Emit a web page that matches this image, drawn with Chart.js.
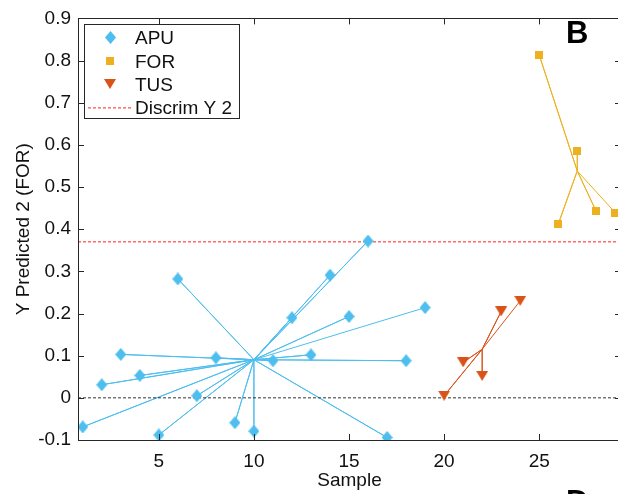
<!DOCTYPE html>
<html>
<head>
<meta charset="utf-8">
<script src="https://cdn.jsdelivr.net/npm/chart.js@4.4.1/dist/chart.umd.min.js"></script>
<style>
html,body{margin:0;padding:0;background:#fff;overflow:hidden;width:618px;height:494px;}
#wrap{position:absolute;left:0;top:0;width:628px;height:494px;}
</style>
</head>
<body>
<div id="wrap"><canvas id="c" width="628" height="494"></canvas></div>
<script>
// ---- data ----
const apuX = [1,2,3,4,5,6,7,8,9,10,11,12,13,14,15,16,17,18,19];
const apuY = [-0.069,0.031,0.103,0.053,-0.088,0.282,0.005,0.095,-0.059,-0.079,0.088,0.190,0.102,0.291,0.193,0.372,-0.094,0.088,0.214];
const forX = [25,26,27,28,29];
const forY = [0.813,0.412,0.585,0.442,0.439];
const tusX = [20,21,22,23,24];
const tusY = [0.005,0.084,0.052,0.205,0.230];
const discrimY = 0.37;
const zeroY = 0;
const seriesNames = ['APU','FOR','TUS','Discrim Y 2'];
const xLimits = [0.75, 29.3];
const yLimits = [-0.1, 0.9];
const xTicks = [5,10,15,20,25];
const xTickLabels = ['5','10','15','20','25'];
const yTicks = [-0.1,0,0.1,0.2,0.3,0.4,0.5,0.6,0.7,0.8,0.9];
const yTickLabels = ['-0.1','0','0.1','0.2','0.3','0.4','0.5','0.6','0.7','0.8','0.9'];
const xTitle = 'Sample';
const yTitle = 'Y Predicted 2 (FOR)';
const panelLabels = ['B','D'];

// ---- styles ----
const C_APU = '#4DBEEE', C_FOR = '#EDB120', C_TUS = '#D95319';
const FONT = "'Liberation Sans', Arial, sans-serif";
const TXT = '#262626';

function mkMarker(w, h, color, shape) {
  const cv = document.createElement('canvas');
  cv.width = w; cv.height = h;
  const g = cv.getContext('2d');
  g.fillStyle = color;
  g.beginPath();
  if (shape === 'diamond') { g.moveTo(w/2,0); g.lineTo(w,h/2); g.lineTo(w/2,h); g.lineTo(0,h/2); }
  else if (shape === 'square') { g.rect(0,0,w,h); }
  else { g.moveTo(0,0); g.lineTo(w,0); g.lineTo(w/2,h); }
  g.closePath(); g.fill();
  return cv;
}
const mkDiamond = mkMarker(11, 13, C_APU, 'diamond');
const mkSquare = mkMarker(8, 8, C_FOR, 'square');
const mkTri = mkMarker(12, 10, C_TUS, 'tri');

function pts(xs, ys) { return xs.map((x, i) => ({x: x, y: ys[i]})); }
function mean(a) { return a.reduce((s, v) => s + v, 0) / a.length; }
function star(xs, ys) {
  const cx = mean(xs), cy = mean(ys);
  const out = [];
  xs.forEach((x, i) => { out.push({x: cx, y: cy}); out.push({x: x, y: ys[i]}); });
  return out;
}

const datasets = [
  {label: seriesNames[0], data: pts(apuX, apuY), pointStyle: mkDiamond, pointRadius: 6, showLine: false, order: 1},
  {label: seriesNames[1], data: pts(forX, forY), pointStyle: mkSquare, pointRadius: 5, showLine: false, order: 1},
  {label: seriesNames[2], data: pts(tusX, tusY), pointStyle: mkTri, pointRadius: 6, showLine: false, order: 1},
  {label: 'APU links', data: star(apuX, apuY), showLine: true, borderColor: C_APU, borderWidth: 1, pointRadius: 0, order: 3},
  {label: 'FOR links', data: star(forX, forY), showLine: true, borderColor: C_FOR, borderWidth: 1, pointRadius: 0, order: 3},
  {label: 'TUS links', data: star(tusX, tusY), showLine: true, borderColor: C_TUS, borderWidth: 1, pointRadius: 0, order: 3},
  {label: seriesNames[3], data: [{x: xLimits[0], y: discrimY}, {x: xLimits[1], y: discrimY}], showLine: true, borderColor: '#FF2020', borderWidth: 1, borderDash: [3,2], pointRadius: 0, order: 2},
  {label: 'Zero', data: [{x: xLimits[0], y: zeroY}, {x: xLimits[1], y: zeroY}], showLine: true, borderColor: '#333333', borderWidth: 1, borderDash: [3,2], pointRadius: 0, order: 2}
];

const framePlugin = {
  id: 'frame',
  afterDatasetsDraw(chart) {
    const ctx = chart.ctx, a = chart.chartArea;
    const xs = chart.scales.x, ys = chart.scales.y;
    ctx.save();
    ctx.strokeStyle = TXT; ctx.lineWidth = 1;
    ctx.beginPath();
    ctx.rect(Math.round(a.left) + 0.5, Math.round(a.top) + 0.5, Math.round(a.right - a.left), Math.round(a.bottom - a.top));
    const L = 6;
    xTicks.forEach(v => {
      const px = Math.round(xs.getPixelForValue(v)) + 0.5;
      ctx.moveTo(px, a.bottom); ctx.lineTo(px, a.bottom - L);
      ctx.moveTo(px, a.top); ctx.lineTo(px, a.top + L);
    });
    yTicks.forEach(v => {
      const py = Math.round(ys.getPixelForValue(v)) + 0.5;
      ctx.moveTo(a.left, py); ctx.lineTo(a.left + L, py);
      ctx.moveTo(a.right, py); ctx.lineTo(a.right - L, py);
    });
    ctx.stroke();
    ctx.restore();
  }
};

const legendPlugin = {
  id: 'boxLegend',
  afterDraw(chart) {
    const ctx = chart.ctx, a = chart.chartArea;
    const bx = a.left + 6, by = a.top + 6, bw = 155, bh = 94;
    ctx.save();
    ctx.fillStyle = '#fff';
    ctx.fillRect(bx, by, bw, bh);
    ctx.strokeStyle = TXT; ctx.lineWidth = 1;
    ctx.strokeRect(Math.round(bx) + 0.5, Math.round(by) + 0.5, bw, bh);
    const rows = [13, 37, 60, 83];
    const mk = [mkDiamond, mkSquare, mkTri];
    const mx = bx + 26;
    mk.forEach((m, i) => ctx.drawImage(m, Math.round(mx - m.width / 2), Math.round(by + rows[i] - m.height / 2)));
    ctx.strokeStyle = '#FF2020'; ctx.setLineDash([3,2]);
    ctx.beginPath(); ctx.moveTo(bx + 4, by + rows[3] + 0.5); ctx.lineTo(bx + 47, by + rows[3] + 0.5); ctx.stroke();
    ctx.setLineDash([]);
    ctx.fillStyle = '#111';
    ctx.font = '19px ' + FONT;
    ctx.textBaseline = 'middle';
    ctx.textAlign = 'left';
    seriesNames.forEach((n, i) => ctx.fillText(n, bx + 51, by + rows[i] + 1));
    // panel labels
    ctx.font = 'bold 31px ' + FONT;
    ctx.fillStyle = '#000';
    ctx.textBaseline = 'alphabetic';
    ctx.fillText(panelLabels[0], 566, 43);
    ctx.fillText(panelLabels[1], 566, 512);
    ctx.restore();
  }
};

new Chart(document.getElementById('c'), {
  type: 'scatter',
  data: {datasets: datasets},
  plugins: [framePlugin, legendPlugin],
  options: {
    responsive: false,
    animation: false,
    events: [],
    layout: {padding: {left: 0, top: 14, right: 7, bottom: 0}},
    plugins: {legend: {display: false}, tooltip: {enabled: false}},
    elements: {line: {tension: 0}},
    scales: {
      x: {
        type: 'linear', min: xLimits[0], max: xLimits[1],
        afterBuildTicks: s => { s.ticks = xTicks.map(v => ({value: v})); },
        afterFit: s => { s.height = 54; },
        grid: {display: false, drawTicks: false},
        border: {display: false},
        ticks: {padding: 10, color: '#111', font: {family: FONT, size: 19}, maxRotation: 0,
          callback: (v) => xTickLabels[xTicks.indexOf(v)]},
        title: {display: true, text: xTitle, color: '#111', font: {family: FONT, size: 19}, padding: {top: 0, bottom: 2}}
      },
      y: {
        type: 'linear', min: yLimits[0], max: yLimits[1],
        afterBuildTicks: s => { s.ticks = yTicks.map(v => ({value: v})); },
        afterFit: s => { s.width = 78; },
        grid: {display: false, drawTicks: false},
        border: {display: false},
        ticks: {padding: 7, color: '#111', font: {family: FONT, size: 19},
          callback: (v) => { const i = yTicks.findIndex(t => Math.abs(t - v) < 1e-9); return yTickLabels[i]; }},
        title: {display: true, text: yTitle, color: '#111', font: {family: FONT, size: 19}, padding: {top: 12, bottom: 0}}
      }
    }
  }
});
</script>
</body>
</html>
